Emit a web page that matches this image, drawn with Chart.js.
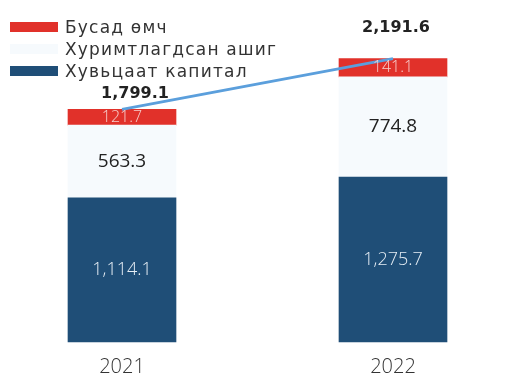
<!DOCTYPE html>
<html>
<head>
<meta charset="utf-8">
<script src="https://cdn.jsdelivr.net/npm/chart.js@4"></script>
<style>
  html, body { margin: 0; padding: 0; background: #fff; overflow: hidden; }
  #wrap { width: 521px; height: 375px; position: relative; }
</style>
</head>
<body>
<div id="wrap"><canvas id="chart"></canvas></div>
<script>
// data
const years = ['2021', '2022'];
const capital = [1114.1, 1275.7];   // Хувьцаат капитал
const retained = [563.3, 774.8];    // Хуримтлагдсан ашиг
const other = [121.7, 141.1];       // Бусад өмч
const totals = [1799.1, 2191.6];
const seriesNames = ['Хувьцаат капитал', 'Хуримтлагдсан ашиг', 'Бусад өмч'];

const fmt = v => v.toLocaleString('en-US', { minimumFractionDigits: 1, maximumFractionDigits: 1 });

// segment values written in the middle of every bar piece
const segmentLabels = {
  id: 'segmentLabels',
  afterDatasetsDraw(chart) {
    const ctx = chart.ctx;
    chart.data.datasets.forEach((ds, i) => {
      if (ds.type !== 'bar') return;
      const meta = chart.getDatasetMeta(i);
      meta.data.forEach((el, j) => {
        ctx.save();
        ctx.font = ds.labelFont;
        ctx.fillStyle = ds.labelColor;
        ctx.textAlign = 'center';
        ctx.textBaseline = 'middle';
        ctx.fillText(fmt(ds.data[j]), el.x, (el.y + el.base) / 2);
        ctx.restore();
      });
    });
  }
};

// totals above the line points
const totalLabels = {
  id: 'totalLabels',
  afterDraw(chart, args, opts) {
    const ctx = chart.ctx;
    const idx = chart.data.datasets.findIndex(d => d.type === 'line');
    const meta = chart.getDatasetMeta(idx);
    meta.data.forEach((pt, j) => {
      ctx.save();
      ctx.font = 'bold 16px "DejaVu Sans"';
      ctx.fillStyle = '#222';
      ctx.textAlign = 'center';
      ctx.textBaseline = 'middle';
      ctx.fillText(fmt(totals[j]), pt.x + opts.dx[j], pt.y - opts.dy[j]);
      ctx.restore();
    });
  }
};

// legend in the top left corner, top series first
const cornerLegend = {
  id: 'cornerLegend',
  afterDraw(chart) {
    const ctx = chart.ctx;
    const bars = chart.data.datasets.filter(d => d.type === 'bar').slice().reverse();
    bars.forEach((ds, k) => {
      const y = 27 + k * 22;
      ctx.save();
      ctx.fillStyle = ds.backgroundColor;
      ctx.fillRect(10, y - 5, 48, 10);
      ctx.font = '17px "DejaVu Sans"';
      ctx.letterSpacing = '1.2px';
      ctx.fillStyle = '#333';
      ctx.textBaseline = 'alphabetic';
      ctx.fillText(ds.label, 65, y + 5.5);
      ctx.restore();
    });
  }
};

new Chart(document.getElementById('chart'), {
  data: {
    labels: years,
    datasets: [
      {
        type: 'line',
        label: 'Нийт',
        data: totals,
        stack: 'total',
        borderColor: '#5b9fdc',
        borderWidth: 3,
        pointRadius: 0,
        order: 0,
        clip: false
      },
      {
        type: 'bar',
        label: seriesNames[0],
        data: capital,
        stack: 'equity',
        backgroundColor: '#1f4e77',
        labelColor: '#e6eef5',
        labelFont: '300 18px "Open Sans"',
        barThickness: 108,
        order: 1,
        clip: false
      },
      {
        type: 'bar',
        label: seriesNames[1],
        data: retained,
        stack: 'equity',
        backgroundColor: '#f6fafd',
        labelColor: '#222',
        labelFont: '19px "Open Sans"',
        barThickness: 108,
        order: 1,
        clip: false
      },
      {
        type: 'bar',
        label: seriesNames[2],
        data: other,
        stack: 'equity',
        backgroundColor: '#e1312a',
        labelColor: '#f6cfcc',
        labelFont: '300 16px "Open Sans"',
        barThickness: 108,
        order: 1,
        clip: false
      }
    ]
  },
  options: {
    responsive: true,
    maintainAspectRatio: false,
    animation: false,
    layout: { padding: { left: 122, right: 128, top: 0, bottom: -17 } },
    plugins: {
      legend: { display: false },
      tooltip: { enabled: false },
      totalLabels: { dx: [13, 3], dy: [16, 31] }
    },
    scales: {
      x: {
        offset: false,
        grid: { display: false, drawTicks: false },
        border: { display: false },
        ticks: {
          color: '#333',
          padding: 13,
          font: { family: 'Open Sans', size: 20, weight: 300 }
        }
      },
      y: {
        display: false,
        stacked: true,
        min: 0,
        max: 2645
      }
    }
  },
  plugins: [segmentLabels, totalLabels, cornerLegend]
});
</script>
</body>
</html>
